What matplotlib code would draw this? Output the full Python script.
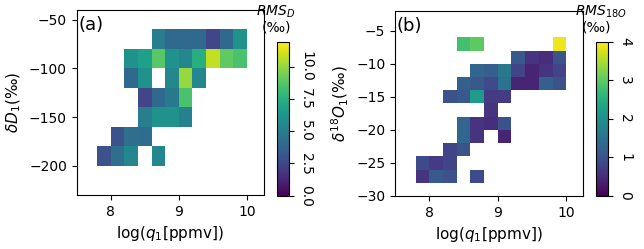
import numpy as np
import matplotlib
matplotlib.use("Agg")
import matplotlib.pyplot as plt

nan = np.nan

# bin edges
xedges = [7.8, 8.0, 8.2, 8.4, 8.6, 8.8, 9.0, 9.2, 9.4, 9.6, 9.8, 10.0]
yedges_d = [-200, -180, -160, -140, -120, -100, -80, -60]
yedges_o = [-28, -26, -24, -22, -20, -18, -16, -14, -12, -10, -8, -6]

# RMS of dD, rows from bottom to top
rms_d = [
    [3.0, 4.3, 5.5, nan, 5.5, nan, nan, nan, nan, nan, nan],
    [nan, 3.0, 4.3, 4.2, nan, nan, nan, nan, nan, nan, nan],
    [nan, nan, nan, 5.0, 6.0, 6.0, 5.2, nan, nan, nan, nan],
    [nan, nan, nan, 2.5, 4.0, 4.8, 8.5, nan, nan, nan, nan],
    [nan, nan, 4.0, 6.0, nan, 5.5, 10.0, 5.5, nan, nan, nan],
    [nan, nan, 6.0, 6.8, 8.8, 6.0, 5.5, 7.5, 10.8, 9.0, 8.5],
    [nan, nan, nan, nan, 5.0, 4.0, 4.0, 4.0, 2.5, 4.0, 6.0],
]

# RMS of d18O, rows from bottom to top
rms_o = [
    [0.6, 1.1, 1.0, nan, 0.9, nan, nan, nan, nan, nan, nan],
    [0.9, 0.7, 0.8, nan, nan, nan, nan, nan, nan, nan, nan],
    [nan, nan, 0.8, 1.0, nan, nan, nan, nan, nan, nan, nan],
    [nan, nan, nan, 1.3, 0.6, nan, 0.4, nan, nan, nan, nan],
    [nan, nan, nan, 1.3, 0.6, 0.5, 1.0, nan, nan, nan, nan],
    [nan, nan, nan, nan, nan, 0.6, nan, nan, nan, nan, nan],
    [nan, nan, 1.0, 1.1, 2.2, 0.7, 0.7, nan, nan, nan, nan],
    [nan, nan, nan, 1.2, 1.1, 0.9, 1.5, 0.4, 0.4, 1.2, 1.0],
    [nan, nan, nan, nan, 1.3, 1.2, 1.6, 0.8, 0.4, 0.6, 0.8],
    [nan, nan, nan, nan, nan, nan, nan, 1.1, 0.6, 0.5, 1.0],
    [nan, nan, nan, 2.8, 3.0, nan, nan, nan, nan, nan, 3.9],
]

fig = plt.figure(figsize=(6.44, 2.49), dpi=100)

ax1 = fig.add_axes([0.119, 0.217, 0.291, 0.743])
cax1 = fig.add_axes([0.4306, 0.214, 0.0186, 0.616])
ax2 = fig.add_axes([0.6134, 0.213, 0.2924, 0.743])
cax2 = fig.add_axes([0.9255, 0.214, 0.019, 0.618])

# (a) dD
m1 = ax1.pcolormesh(xedges, yedges_d, np.ma.masked_invalid(np.array(rms_d)),
                    cmap="viridis", vmin=0, vmax=11.9)
ax1.set_xlim(7.5, 10.25)
ax1.set_ylim(-230, -40)
ax1.set_xticks([8, 9, 10])
ax1.set_yticks([-50, -100, -150, -200])
ax1.set_xlabel("log($q_1$[ppmv])", fontsize=11)
ax1.set_ylabel(r"$\delta D_1$(‰)", fontsize=11)
ax1.text(0.01, 0.97, "(a)", transform=ax1.transAxes, fontsize=13, va="top")

cb1 = fig.colorbar(m1, cax=cax1, ticks=[0, 2.5, 5, 7.5, 10])
cb1.ax.set_yticklabels(["0.0", "2.5", "5.0", "7.5", "10.0"], rotation=270, va="center")
fig.text(0.428, 0.952, "$RMS_D$", ha="center", va="center", fontsize=10)
fig.text(0.430, 0.888, "(‰)", ha="center", va="center", fontsize=10)

# (b) d18O
m2 = ax2.pcolormesh(xedges, yedges_o, np.ma.masked_invalid(np.array(rms_o)),
                    cmap="viridis", vmin=0, vmax=4)
ax2.set_xlim(7.5, 10.25)
ax2.set_ylim(-30, -2)
ax2.set_xticks([8, 9, 10])
ax2.set_yticks([-5, -10, -15, -20, -25, -30])
ax2.set_xlabel("log($q_1$[ppmv])", fontsize=11)
ax2.set_ylabel(r"$\delta^{18}O_1$(‰)", fontsize=11)
ax2.text(0.01, 0.97, "(b)", transform=ax2.transAxes, fontsize=13, va="top")

cb2 = fig.colorbar(m2, cax=cax2, ticks=[0, 1, 2, 3, 4])
cb2.ax.set_yticklabels(["0", "1", "2", "3", "4"], rotation=270, va="center")
fig.text(0.933, 0.952, "$RMS_{18O}$", ha="center", va="center", fontsize=10)
fig.text(0.927, 0.888, "(‰)", ha="center", va="center", fontsize=10)

fig.savefig("out.png", dpi=100)
